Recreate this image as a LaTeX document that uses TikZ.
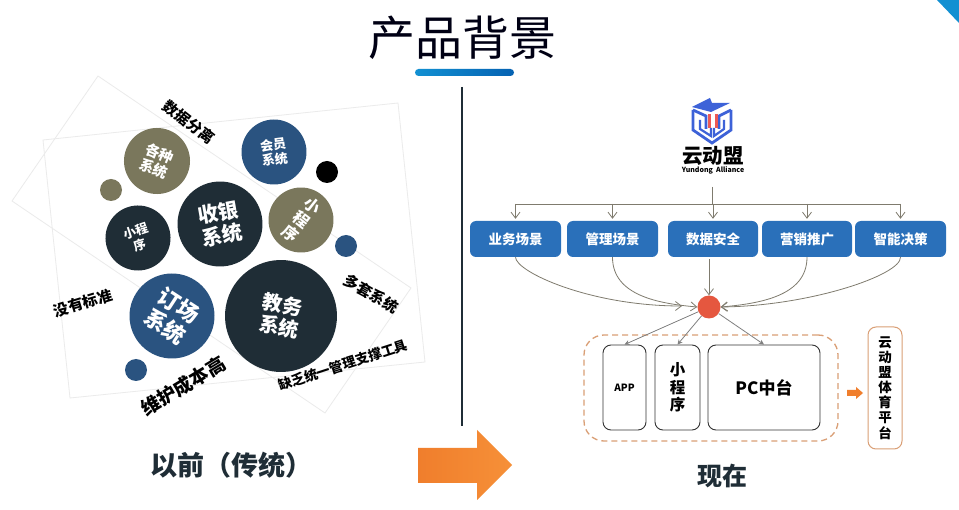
\documentclass[tikz,border=0pt]{standalone}
\usepackage{fontspec}
\setmainfont{Noto Sans CJK SC}
\usetikzlibrary{arrows.meta}
\definecolor{darkball}{HTML}{1F2D36}
\definecolor{blueball}{HTML}{2A5380}
\definecolor{oliveball}{HTML}{7A775C}
\definecolor{boxblue}{HTML}{2A70BA}
\definecolor{linegray}{HTML}{7F7B6E}
\definecolor{dashtan}{HTML}{DA9F76}
\definecolor{logoblue}{HTML}{3D62D8}
\definecolor{logored}{HTML}{EC5A55}
\definecolor{hubred}{HTML}{E5573F}
\definecolor{arrowA}{HTML}{F07E2C}
\definecolor{arrowB}{HTML}{F69038}
\definecolor{barA}{HTML}{1290D2}
\definecolor{barB}{HTML}{0562B2}
\newcommand{\fs}[1]{\fontsize{#1}{#1}\selectfont\baselineskip=1.12\dimexpr#1pt\relax}
\tikzset{
    ball/.style={circle,inner sep=0pt,text=white,align=center,font=\bfseries},
    note/.style={inner sep=0pt,text=black,font=\bfseries\fs{15}},
    frame/.style={draw=black!8,line width=0.8pt},
    bluebox/.style={draw=none,fill=boxblue,rounded corners=6pt,text=white,minimum height=36pt,inner sep=0pt,font=\bfseries\fs{13.5}},
    whitebox/.style={draw=black!80,line width=0.9pt,rounded corners=8pt,minimum height=85pt,inner sep=0pt,align=center,font=\bfseries},
    branch/.style={draw=linegray,line width=0.8pt,-{Straight Barb[length=6pt,width=9pt]}},
    thin arrow/.style={draw=black!50,line width=0.8pt,-{Stealth[length=5pt,width=5pt]}},
    logo line/.style={draw=logoblue,line width=2.8pt,line join=miter}
}
\begin{document}
\begin{tikzpicture}[x=1pt,y=-1pt]
    \useasboundingbox (0,0) rectangle (959,510);
    \fill[white] (0,0) rectangle (959,510);

    % title
    \node[text=black!92!blue,inner sep=0pt,font=\fs{47}] (title) at (462,38) {产品背景};
    \shade[left color=barA,right color=barB,rounded corners=3.5pt] (415,69) rectangle (514,76);
    \fill[barA] (937,0) -- (959,0) -- (959,23) -- cycle;
    \draw[darkball,line width=1.6pt] (462,87) -- (462,426);

    % left side
    \draw[frame] (43,140) -- (398,103) -- (425,362) -- (70,398) -- cycle;
    \draw[frame] (98,76) -- (411,288) -- (325,413) -- (12,201) -- cycle;

    \node[ball,fill=oliveball,minimum size=66pt,rotate=-22,font=\bfseries\fs{14.5}] (gezhong) at (157,161) {各种\\系统};
    \node[ball,fill=blueball,minimum size=65pt,rotate=7,font=\bfseries\fs{13}] (huiyuan) at (274,152) {会员\\系统};
    \node[ball,fill=oliveball,minimum size=65pt,rotate=-38,font=\bfseries\fs{16}] (xiaochengA) at (301,220) {小\\程\\序};
    \node[ball,fill=darkball,minimum size=65pt,rotate=18,font=\bfseries\fs{12.5}] (xiaochengB) at (138,238) {小程\\序};
    \node[ball,fill=darkball,minimum size=85pt,rotate=10,font=\bfseries\fs{20.5}] (shouyin) at (220,224) {收银\\系统};
    \node[ball,fill=blueball,minimum size=85pt,rotate=-33,font=\bfseries\fs{22}] (dingchang) at (172,316) {订场\\系统};
    \node[ball,fill=darkball,minimum size=112pt,rotate=-10,font=\bfseries\fs{20}] (jiaowu) at (281,316) {教务\\系统};

    \node[ball,fill=oliveball,minimum size=22pt] (dotA) at (111,190) {};
    \node[ball,fill=black,minimum size=22pt] (dotB) at (327,172) {};
    \node[ball,fill=blueball,minimum size=22pt] (dotC) at (346,246) {};
    \node[ball,fill=blueball,minimum size=22pt] (dotD) at (136,370) {};

    \node[note,rotate=-38] (fenli) at (189,122) {数据分离};
    \node[note,rotate=17] (biaozhun) at (83,303) {没有标准};
    \node[note,rotate=-30] (duotao) at (371,294) {多套系统};
    \node[note,rotate=31,font=\bfseries\fs{19}] (chengben) at (183,386) {维护成本高};
    \node[note,rotate=18,font=\bfseries\fs{13.5}] (gongju) at (343,365) {缺乏统一管理支撑工具};

    \node[inner sep=0pt,text=darkball,font=\bfseries\fs{27}] (yiqian) at (231,465) {以前（传统）};

    % big arrow
    \shade[left color=arrowA,right color=arrowB]
        (418,448) -- (477,448) -- (477,430) -- (512,465) -- (477,500) -- (477,483) -- (418,483) -- cycle;

    % logo
    \fill[logoblue] (692,107) -- (710,98) -- (712,103) -- (730,103) -- (711,112) -- cycle;
    \draw[logo line] (693,110) -- (706,116) -- (706,129);
    \draw[logo line] (731,110) -- (719,116) -- (719,129);
    \draw[logo line] (693,110) -- (693,130) -- (712,143) -- (731,130) -- (731,110);
    \draw[logo line,line width=2.2pt] (700,120) -- (700,129) -- (711,136) -- (711,128);
    \draw[logo line,line width=2.2pt] (724,120) -- (724,129) -- (714,136) -- (714,128);
    \fill[logored] (707.5,114) rectangle (710.5,128);
    \fill[logored] (715,114) rectangle (718,128);
    \node[inner sep=0pt,text=black,font=\bfseries\fs{20.5}] (logotxt) at (713,156) {云动盟};
    \node[inner sep=0pt,text=black,font=\bfseries\fs{7}] (logosub) at (713,170) {Yundong\ \ Alliance};

    % right side
    \node[bluebox,minimum width=91pt] (yewu) at (515.5,239) {业务场景};
    \node[bluebox,minimum width=91pt] (guanli) at (612.5,239) {管理场景};
    \node[bluebox,minimum width=90pt] (shuju) at (713,239) {数据安全};
    \node[bluebox,minimum width=90pt] (yingxiao) at (807,239) {营销推广};
    \node[bluebox,minimum width=91pt] (zhineng) at (900.5,239) {智能决策};

    \coordinate (top) at (712,187);
    \coordinate (bar) at (712,204);
    \draw[linegray,line width=0.9pt] (top) -- (bar);
    \draw[linegray,line width=0.9pt] (yewu.north |- bar) -- (zhineng.north |- bar);
    \foreach \n in {yewu,guanli,shuju,yingxiao,zhineng}
    \draw[branch] (\n.north |- bar) -- ([yshift=2pt]\n.north);

    \node[circle,fill=hubred,inner sep=0pt,minimum size=23pt] (hub) at (709,307) {};
    \coordinate (hubleft) at (682,306);
    \draw[branch] (yewu.south) .. controls (516,272) and (590,306) .. (hubleft);
    \draw[branch] (guanli.south) to[out=-90,in=175] (hub.west);
    \draw[branch] ([yshift=-2pt]shuju.south -| hub) -- (hub.north);
    \draw[branch] (yingxiao.south) to[out=-90,in=5] (hub.east);
    \draw[branch] (zhineng.south) .. controls (901,275) and (810,306) .. (hub.east);

    \node[draw=dashtan,dash pattern=on 6pt off 4pt,line width=1.3pt,rounded corners=20pt,minimum width=254pt,minimum height=106pt,inner sep=0pt] (group) at (711,388) {};
    \node[whitebox,minimum width=43pt,font=\bfseries\fs{10}] (app) at (624.5,387.5) {APP};
    \node[whitebox,minimum width=45pt,font=\bfseries\fs{15.5}] (mini) at (677.5,387.5) {小\\程\\序};
    \node[whitebox,minimum width=112pt,font=\bfseries\fs{17}] (pc) at (764,387.5) {PC中台};

    \draw[thin arrow] (hub) -- (app.north);
    \draw[thin arrow] (hub) -- (mini.north);
    \draw[thin arrow] (hub) -- (pc.north);

    \node[draw=dashtan,line width=1pt,rounded corners=8pt,minimum width=34pt,minimum height=122pt,inner sep=0pt,align=center,font=\bfseries\fs{13.5}] (platform) at (885,388) {云\\动\\盟\\体\\育\\平\\台};
    \fill[arrowA] (847,390) -- (856,390) -- (856,387) -- (863,393) -- (856,399) -- (856,396) -- (847,396) -- cycle;

    \node[inner sep=0pt,text=darkball,font=\bfseries\fs{25}] (xianzai) at (722,476) {现在};
\end{tikzpicture}
\end{document}
